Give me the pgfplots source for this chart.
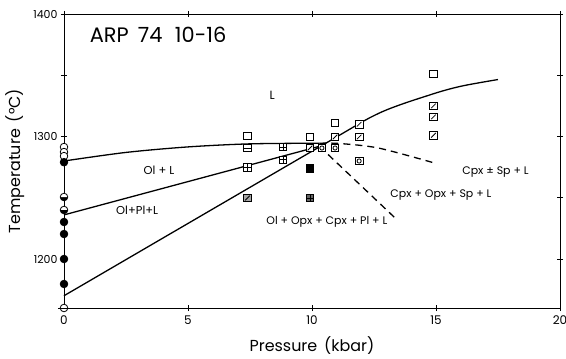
\documentclass[border=0pt]{standalone}
\usepackage{fontspec}
\setmainfont{Poppins}
\usepackage{pgfplots}
\pgfplotsset{compat=1.18}
\usetikzlibrary{plotmarks}

\pgfdeclareplotmark{sqdiag}{%
 \pgfpathrectangle{\pgfpoint{-\pgfplotmarksize}{-\pgfplotmarksize}}{\pgfpoint{2\pgfplotmarksize}{2\pgfplotmarksize}}%
 \pgfusepathqfillstroke
 \pgfpathmoveto{\pgfpoint{-0.6\pgfplotmarksize}{-0.6\pgfplotmarksize}}%
 \pgfpathlineto{\pgfpoint{0.6\pgfplotmarksize}{0.6\pgfplotmarksize}}%
 \pgfusepathqstroke}
\pgfdeclareplotmark{sqgrid}{%
 \pgfpathrectangle{\pgfpoint{-\pgfplotmarksize}{-\pgfplotmarksize}}{\pgfpoint{2\pgfplotmarksize}{2\pgfplotmarksize}}%
 \pgfusepathqfillstroke
 \pgfpathmoveto{\pgfpoint{-\pgfplotmarksize}{0pt}}\pgfpathlineto{\pgfpoint{\pgfplotmarksize}{0pt}}%
 \pgfpathmoveto{\pgfpoint{0pt}{-\pgfplotmarksize}}\pgfpathlineto{\pgfpoint{0pt}{\pgfplotmarksize}}%
 \pgfusepathqstroke}
\pgfdeclareplotmark{sqhline}{%
 \pgfpathrectangle{\pgfpoint{-\pgfplotmarksize}{-\pgfplotmarksize}}{\pgfpoint{2\pgfplotmarksize}{2\pgfplotmarksize}}%
 \pgfusepathqfillstroke
 \pgfpathmoveto{\pgfpoint{-\pgfplotmarksize}{0pt}}\pgfpathlineto{\pgfpoint{\pgfplotmarksize}{0pt}}%
 \pgfusepathqstroke}
\pgfdeclareplotmark{sqcirc}{%
 \pgfpathrectangle{\pgfpoint{-\pgfplotmarksize}{-\pgfplotmarksize}}{\pgfpoint{2\pgfplotmarksize}{2\pgfplotmarksize}}%
 \pgfusepathqfillstroke
 \pgfpathcircle{\pgfpoint{0pt}{0pt}}{0.55\pgfplotmarksize}%
 \pgfusepathqstroke}
\pgfdeclareplotmark{ohline}{%
 \pgfpathcircle{\pgfpoint{0pt}{0pt}}{\pgfplotmarksize}%
 \pgfusepathqfillstroke
 \pgfpathmoveto{\pgfpoint{-1.6\pgfplotmarksize}{0pt}}\pgfpathlineto{\pgfpoint{1.6\pgfplotmarksize}{0pt}}%
 \pgfusepathqstroke}

\begin{document}
\begin{tikzpicture}
\useasboundingbox (-64bp,-51bp) rectangle (502bp,308bp);
\begin{axis}[
  scale only axis, width=496bp, height=294bp,
  xmin=0, xmax=20, ymin=1160, ymax=1400,
  xtick={0,5,10,15,20},
  ytick={1200,1250,1300,1350,1400},
  yticklabels={1200,,1300,,1400},
  tick align=center,
  major tick length=6bp,
  axis line style={line width=0.6pt},
  tick style={line width=0.6pt, black},
  /pgf/number format/assume math mode=true,
  /pgf/number format/1000 sep={},
  xticklabel style={font=\fontsize{12}{12}\selectfont, yshift=-1bp},
  yticklabel style={font=\fontsize{11}{11}\selectfont},
  xlabel={Pressure\, (kbar)},
  ylabel={Temperature\, (°C)},
  xlabel style={font=\fontsize{16}{16}\selectfont, at={(axis description cs:0.5,-0.126)}, anchor=center},
  ylabel style={font=\fontsize{16}{16}\selectfont, at={(axis description cs:-0.099,0.5)}, anchor=center},
  clip=false,
  every axis plot/.append style={line width=1.3pt},
]
% phase boundaries
\addplot[black, smooth] coordinates {(0,1280) (2.5,1287) (5,1291.5) (7.5,1294) (10.3,1294.5)};
\addplot[black] coordinates {(0,1236) (10.3,1292)};
\addplot[black, smooth] coordinates {(0,1170) (10.3,1291.5) (12.7,1319) (14.76,1334) (16,1341) (17.5,1346.5)};
\addplot[black, dash pattern=on 7bp off 5bp, smooth] coordinates {(10.3,1294.5) (11.1,1294.3) (12.7,1290.5) (15,1278)};
\addplot[black, dash pattern=on 7bp off 5bp] coordinates {(10.3,1292) (13.35,1233.5)};
% circles at 1 atm
\addplot[only marks, mark=*, mark size=3.8bp, mark options={fill=white, line width=0.8pt}] coordinates {(0,1291.4) (0,1287.3) (0,1284)};
\addplot[only marks, mark=*, mark size=3.8bp, mark options={fill=black, line width=0.8pt}] coordinates {(0,1279) (0,1230.2) (0,1220.4) (0,1200) (0,1179.6)};
\addplot[only marks, mark=halfcircle*, mark size=3.8bp, mark options={fill=black, line width=0.8pt, rotate=180}] coordinates {(0,1250.6) (0,1240)};
\addplot[only marks, mark=ohline, mark size=3.8bp, mark options={fill=white, line width=0.8pt}] coordinates {(0,1160)};
% squares
\addplot[only marks, mark=square*, mark size=3.8bp, mark options={fill=white, line width=0.8pt}] coordinates {(7.4,1300.4) (9.92,1299.6) (10.93,1311) (14.9,1351)};
\addplot[only marks, mark=sqhline, mark size=3.8bp, mark options={fill=white, line width=0.8pt}] coordinates {(7.4,1290.6)};
\addplot[only marks, mark=sqgrid, mark size=3.8bp, mark options={fill=white, line width=0.8pt}] coordinates {(7.4,1275) (8.83,1291.4) (8.83,1281)};
\addplot[only marks, mark=sqdiag, mark size=3.8bp, mark options={fill=white, line width=0.8pt}] coordinates {(9.92,1290.6) (10.93,1299.6) (11.9,1310) (11.9,1299.6) (14.9,1325) (14.9,1316) (14.9,1301)};
\addplot[only marks, mark=sqcirc, mark size=3.8bp, mark options={fill=white, line width=0.8pt}] coordinates {(10.4,1290.6) (10.93,1290.6) (11.9,1280)};
\addplot[only marks, mark=sqdiag, mark size=3.8bp, mark options={fill=black!35, line width=0.8pt}] coordinates {(7.4,1249.8)};
\addplot[only marks, mark=square*, mark size=3.8bp, mark options={fill=black, line width=0.8pt}] coordinates {(9.92,1274)};
\addplot[only marks, mark=sqgrid, mark size=3.8bp, mark options={fill=black!60, line width=0.8pt}] coordinates {(9.92,1249.8)};
% labels
\node[anchor=west, font=\fontsize{21}{21}\selectfont] at (axis cs:0.9,1383) {ARP\, 74\,\, 10-16};
\node[font=\fontsize{12}{12}\selectfont] at (axis cs:8.4,1334) {L};
\node[font=\fontsize{11.5}{11.5}\selectfont] at (axis cs:3.83,1272.7) {Ol + L};
\node[font=\fontsize{11.5}{11.5}\selectfont] at (axis cs:2.95,1240) {Ol+Pl+L};
\node[font=\fontsize{11}{11}\selectfont] at (axis cs:10.6,1230) {Ol + Opx + Cpx + Pl + L};
\node[font=\fontsize{11}{11}\selectfont] at (axis cs:17.4,1271) {Cpx ± Sp + L};
\node[font=\fontsize{11}{11}\selectfont] at (axis cs:15.2,1252) {Cpx + Opx + Sp + L};
\end{axis}
\end{tikzpicture}
\end{document}
